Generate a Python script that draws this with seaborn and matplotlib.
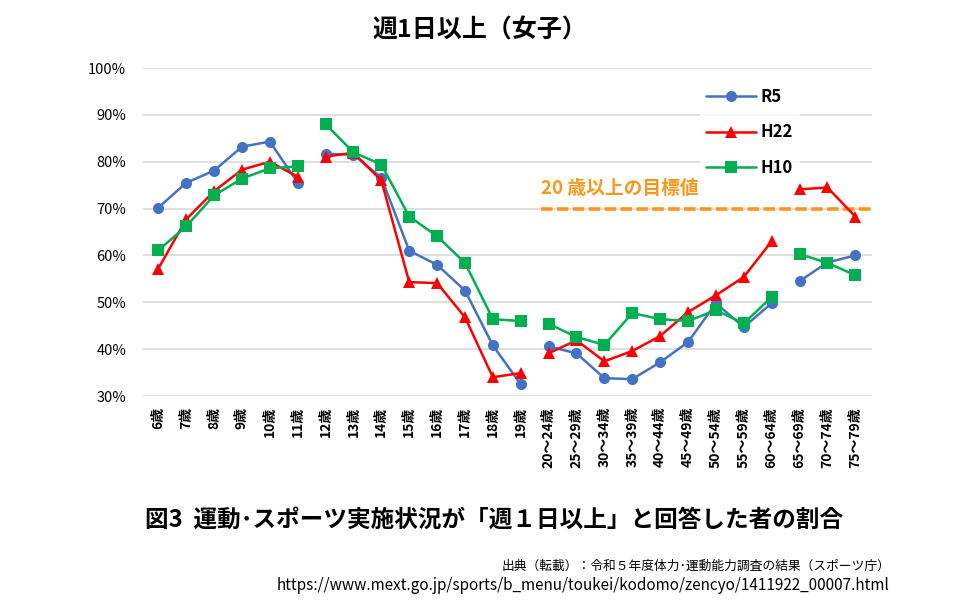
import numpy as np
import pandas as pd
import matplotlib
matplotlib.use("Agg")
import matplotlib.pyplot as plt
import seaborn as sns
from matplotlib.lines import Line2D

# age groups (x categories)
ages = ["6歳", "7歳", "8歳", "9歳", "10歳", "11歳", "12歳", "13歳", "14歳", "15歳",
        "16歳", "17歳", "18歳", "19歳", "20～24歳", "25～29歳", "30～34歳", "35～39歳",
        "40～44歳", "45～49歳", "50～54歳", "55～59歳", "60～64歳", "65～69歳",
        "70～74歳", "75～79歳"]

# segments: lines are broken between these groups
segments = [0] * 6 + [1] * 8 + [2] * 9 + [3] * 3

r5 = [70.2, 75.5, 78.1, 83.2, 84.3, 75.5, 81.7, 81.5, 76.6, 61.0, 58.0, 52.5, 40.8, 32.5,
      40.6, 39.1, 33.8, 33.6, 37.2, 41.5, 49.8, 44.7, 49.8, 54.5, 58.5, 60.0]
h22 = [57.2, 67.7, 73.7, 78.3, 80.0, 76.8, 81.1, 81.9, 76.0, 54.3, 54.1, 46.8, 34.0, 34.9,
       39.1, 41.9, 37.4, 39.6, 42.8, 47.9, 51.5, 55.4, 63.0, 74.1, 74.5, 68.3]
h10 = [61.1, 66.2, 72.8, 76.4, 78.6, 79.0, 88.0, 82.0, 79.4, 68.3, 64.1, 58.4, 46.4, 46.0,
       45.4, 42.6, 40.9, 47.7, 46.4, 46.0, 48.3, 45.5, 51.1, 60.3, 58.4, 55.8]

target = 70
target_label = "20 歳以上の目標値"

series_names = ["R5", "H22", "H10"]
colors = {"R5": "#4472C4", "H22": "#FF0000", "H10": "#00B050"}
markers = {"R5": "o", "H22": "^", "H10": "s"}
orange = "#F7981D"

rows = []
for name, vals in zip(series_names, [r5, h22, h10]):
    for i, v in enumerate(vals):
        rows.append({"pos": i, "val": v, "series": name, "seg": segments[i]})
df = pd.DataFrame(rows)

sns.set_theme(style="white")
plt.rcParams["font.family"] = ["Noto Sans CJK JP", "DejaVu Sans"]
plt.rcParams["text.color"] = "black"
plt.rcParams["xtick.color"] = "black"
plt.rcParams["ytick.color"] = "black"

fig = plt.figure(figsize=(9.6, 6.03), dpi=100)
ax = fig.add_axes([143 / 960, 1 - 396 / 603, (872 - 143) / 960, (396 - 68) / 603])

sns.lineplot(data=df, x="pos", y="val", hue="series", style="series", units="seg",
             estimator=None, palette=colors, markers=markers, dashes=False,
             markersize=8, markeredgewidth=0, linewidth=1.8, legend=False, ax=ax,
             hue_order=series_names, style_order=series_names)

# target line for 20+ ages
ax.plot([13.72, 25.6], [target, target], color=orange, linestyle=(0, (3.2, 1.2)),
        linewidth=2.6, zorder=1)
ax.text(13.72, target + 4.2, target_label, color=orange, fontsize=13.5,
        fontweight="bold", ha="left", va="center")

ax.set_xlim(-0.55, 25.6)
ax.set_ylim(30, 100)
ax.set_yticks(np.arange(30, 101, 10))
ax.set_yticklabels([f"{v}%" for v in range(30, 101, 10)], fontsize=10.5)
ax.set_xticks(range(len(ages)))
ax.set_xticklabels(ages, rotation=90, fontsize=10, fontweight="bold")
ax.tick_params(axis="y", pad=12, length=0)
ax.tick_params(axis="x", pad=8, length=0)
ax.set_xlabel("")
ax.set_ylabel("")
ax.grid(axis="y", color="#D9D9D9", linewidth=1.2)
ax.set_axisbelow(True)
for s in ax.spines.values():
    s.set_visible(False)

handles = [Line2D([], [], color=colors[n], marker=markers[n], markersize=8,
                  markeredgewidth=0, linewidth=1.8, label=n) for n in series_names]
leg = ax.legend(handles=handles, loc="upper left", bbox_to_anchor=(0.752, 0.985),
                frameon=True, fontsize=12, handlelength=3.0, handletextpad=0.25,
                labelspacing=1.05, borderpad=0.4)
leg.get_frame().set_facecolor("white")
leg.get_frame().set_edgecolor("white")
for t in leg.get_texts():
    t.set_fontweight("bold")

fig.text(0.5, 1 - 30 / 603, "週1日以上（女子）", ha="center", va="center",
         fontsize=18, fontweight="bold")
fig.text(494 / 960, 1 - 520 / 603, "図3  運動･スポーツ実施状況が「週１日以上」と回答した者の割合",
         ha="center", va="center", fontsize=17, fontweight="bold")
fig.text(890 / 960, 1 - 566 / 603, "出典（転載）：令和５年度体力･運動能力調査の結果（スポーツ庁）",
         ha="right", va="center", fontsize=9.2)
fig.text(890 / 960, 1 - 585 / 603,
         "https://www.mext.go.jp/sports/b_menu/toukei/kodomo/zencyo/1411922_00007.html",
         ha="right", va="center", fontsize=11)

fig.savefig("out.png", dpi=100)
